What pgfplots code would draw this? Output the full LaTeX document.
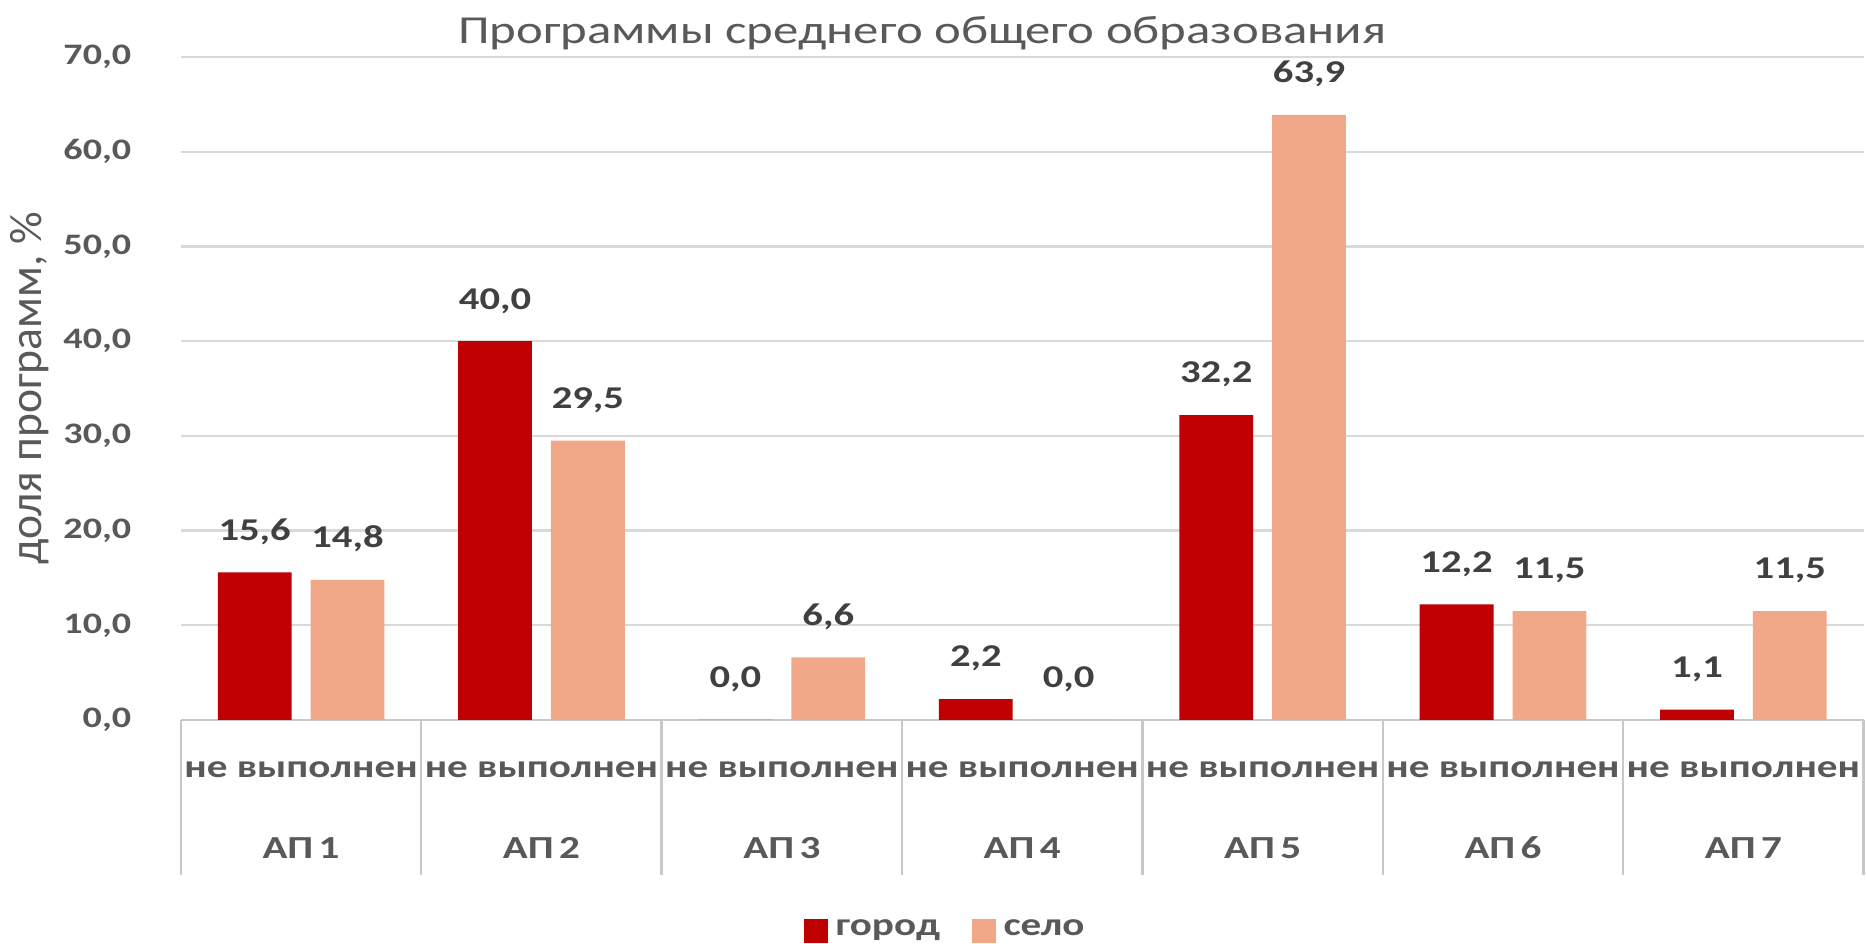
\documentclass[border=0pt]{standalone}
\usepackage{fontspec}
\setmainfont{Carlito}[FakeStretch=1.28]
\newfontfamily\ylabfont{Carlito}
\usepackage{pgfplots}
\pgfplotsset{compat=1.18}
\definecolor{gorod}{RGB}{192,0,0}
\definecolor{selo}{RGB}{240,168,136}
\definecolor{txt}{RGB}{89,89,89}
\definecolor{txtd}{RGB}{64,64,64}
\definecolor{gridc}{RGB}{217,217,217}
\definecolor{sepc}{RGB}{200,200,200}

\begin{document}
\begin{tikzpicture}
\useasboundingbox (-45.6pt,-56.4pt) rectangle (424.8pt,181.5pt);
\begin{axis}[
scale only axis,
width=424.2pt, height=167.1pt,
ybar=4.8pt, bar width=18.6pt,
xmin=-0.5, xmax=6.5,
ymin=0, ymax=70,
ytick={0,10,...,70},
xtick={0,...,6},
xticklabels={
  {не выполнен\\[10.6pt]АП\,1},
  {не выполнен\\[10.6pt]АП\,2},
  {не выполнен\\[10.6pt]АП\,3},
  {не выполнен\\[10.6pt]АП\,4},
  {не выполнен\\[10.6pt]АП\,5},
  {не выполнен\\[10.6pt]АП\,6},
  {не выполнен\\[10.6pt]АП\,7}},
minor xtick={-0.5,0.5,...,6.5},
xtick pos=bottom, ytick pos=left,
major tick length=0pt,
minor tick length=39pt,
tick align=outside,
minor x tick style={draw=sepc, line width=0.6pt},
axis line style={draw=none},
ymajorgrids=true,
grid style={draw=gridc, line width=0.6pt},
extra y ticks={0},
extra y tick labels={},
extra y tick style={grid=major, major grid style={draw=sepc, line width=0.7pt}},
xticklabel style={align=center, font=\bfseries\fontsize{8.1}{9.7}\selectfont, text=txt, yshift=-7pt},
yticklabel style={font=\bfseries\fontsize{7.5}{9}\selectfont, text=txt, xshift=-9pt,
  /pgf/number format/.cd, fixed, fixed zerofill, precision=1, use comma, assume math mode=true},
title={Программы среднего общего образования},
every axis title shift=0pt,
title style={at={(axis description cs:0.4406,1.036)}, anchor=center, font=\fontsize{10}{12}\selectfont, text=txt},
ylabel={доля программ, \%},
ylabel style={at={(axis description cs:-0.0898,0.5)}, anchor=center, font=\ylabfont\fontsize{11.5}{13}\selectfont, text=txt},
nodes near coords={\pgfmathprintnumber[fixed,fixed zerofill,precision=1,use comma,assume math mode=true]{\pgfplotspointmeta}},
every node near coord/.append style={font=\bfseries\fontsize{8}{9.6}\selectfont, text=txtd, yshift=3.5pt},
legend style={at={(axis description cs:0.456,-0.318)}, anchor=center, legend columns=2, draw=none, fill=none,
  font=\bfseries\fontsize{8.1}{9.7}\selectfont, text=txt,
  /tikz/every even column/.append style={column sep=6pt}},
legend image code/.code={\fill[#1] (0pt,-3pt) rectangle (6pt,3pt);},
]
\addplot[fill=gorod, draw=none] coordinates {
  (0,15.6)(1,40.0)(2,0.0)(3,2.2)(4,32.2)(5,12.2)(6,1.1)
};
\addplot[fill=selo, draw=none] coordinates {
  (0,14.8)(1,29.5)(2,6.6)(3,0.0)(4,63.9)(5,11.5)(6,11.5)
};
\legend{город, село}
\end{axis}
\end{tikzpicture}
\end{document}
